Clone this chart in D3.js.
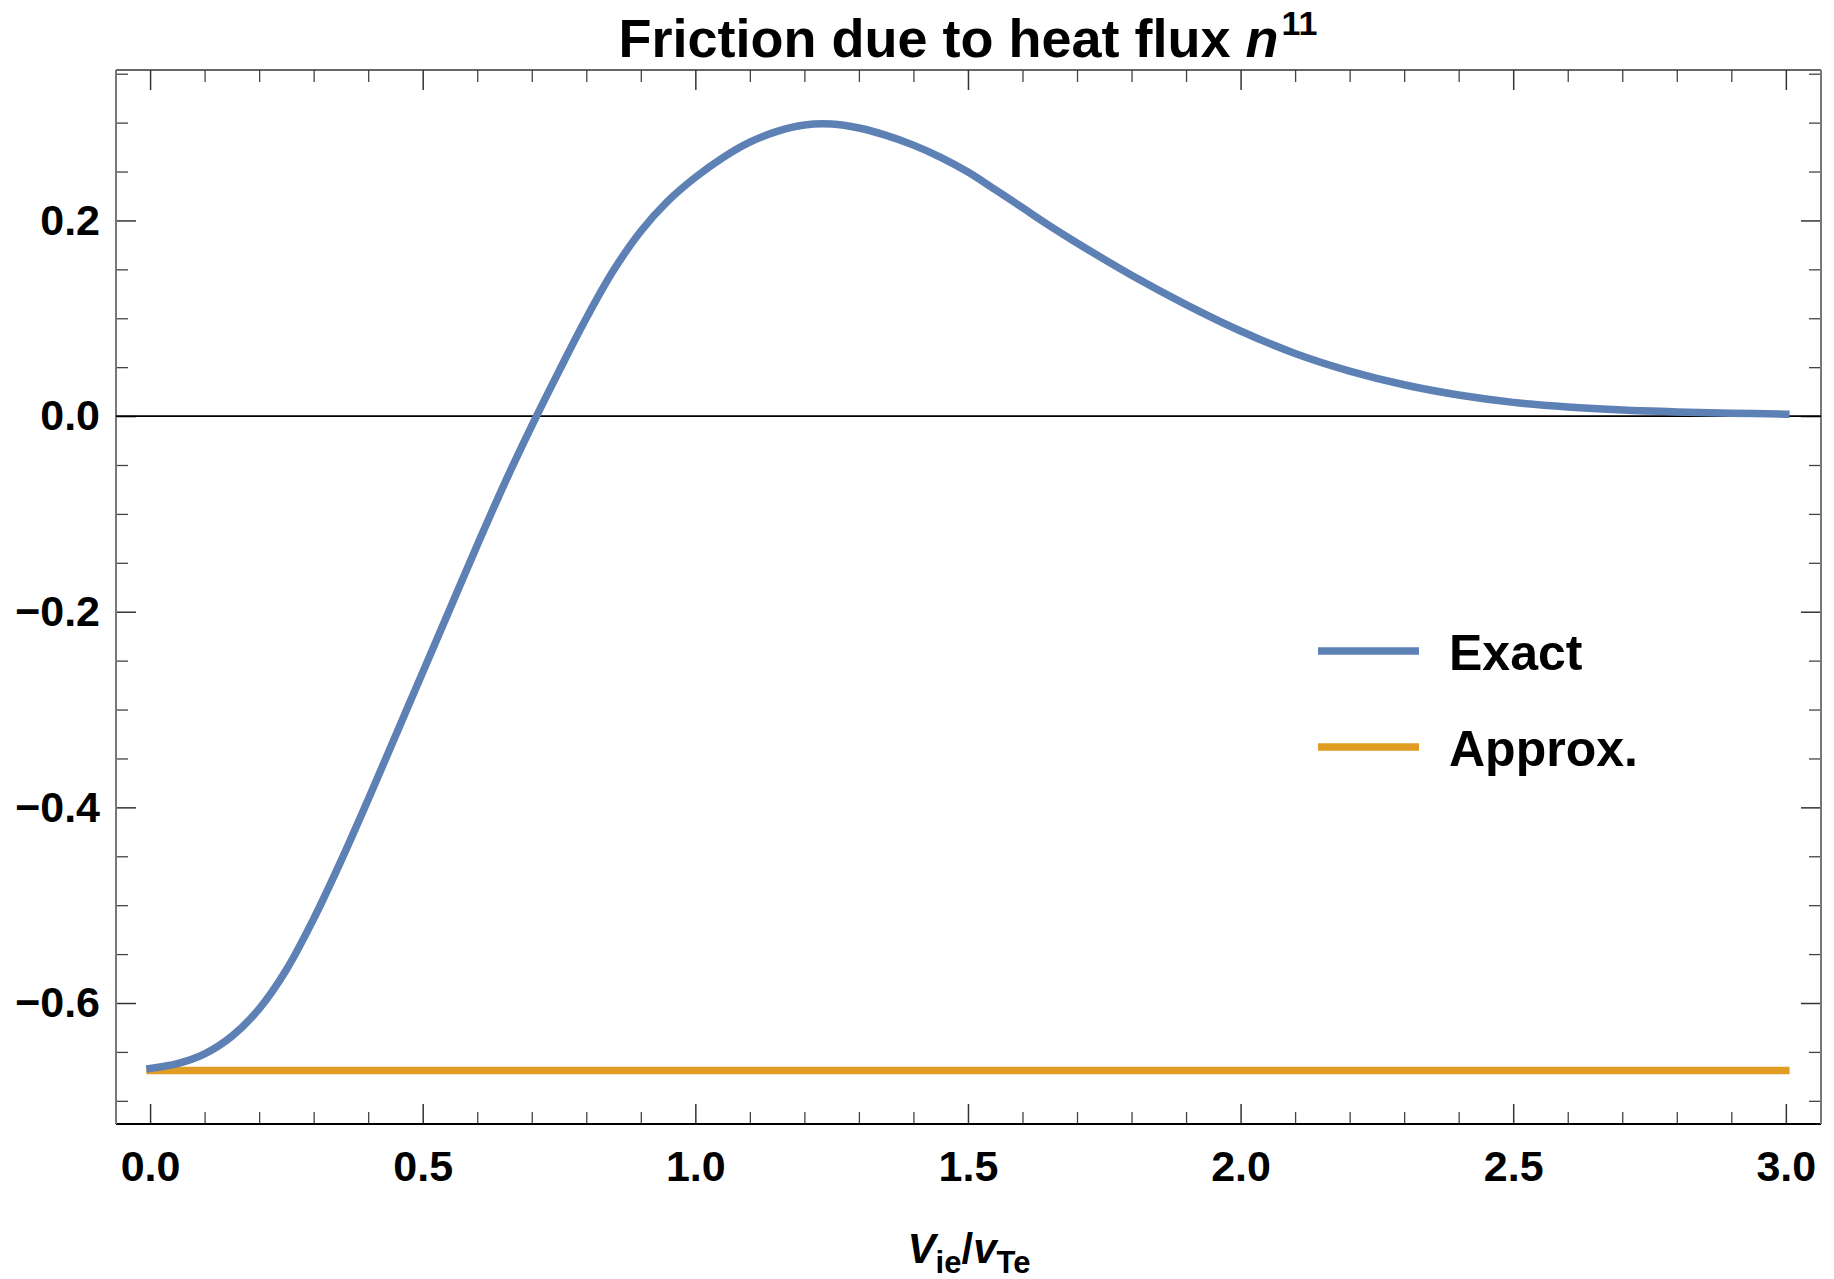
<!DOCTYPE html>
<meta charset="utf-8">
<style>
body { margin: 0; background: #fff; }
svg { font-family: "Liberation Sans", Arial, sans-serif; font-weight: bold; }
.tick text { font-size: 43px; font-weight: bold; fill: #000; }
.tick line { stroke: #333; stroke-width: 1.5px; }
.minor .tick line { stroke: #444; stroke-width: 1.3px; }
</style>
<svg width="1834" height="1279"></svg>
<script src="https://d3js.org/d3.v7.min.js"></script>
<script>

// values
var speed = [0, 0.05, 0.1, 0.15, 0.2, 0.25, 0.3, 0.35, 0.4, 0.45, 0.5, 0.55, 0.6, 0.65, 0.7, 0.75,
             0.8, 0.85, 0.9, 0.95, 1.0, 1.05, 1.1, 1.15, 1.2, 1.25, 1.3, 1.35, 1.4, 1.45, 1.5,
             1.55, 1.6, 1.65, 1.7, 1.8, 1.9, 2.0, 2.1, 2.2, 2.3, 2.4, 2.5, 2.6, 2.7, 2.8, 2.9, 3.0];
var exact = [-0.667, -0.662, -0.652, -0.634, -0.606, -0.566, -0.514, -0.455, -0.392, -0.327, -0.262,
             -0.197, -0.132, -0.069, -0.010, 0.046, 0.100, 0.149, 0.189, 0.220, 0.244, 0.264, 0.280,
             0.291, 0.2975, 0.2985, 0.2945, 0.287, 0.277, 0.2645, 0.2495,
             0.2315, 0.213, 0.1945, 0.177, 0.144, 0.114, 0.087, 0.064, 0.046, 0.032, 0.0215, 0.014,
             0.0093, 0.0062, 0.0043, 0.003, 0.002];
var approx = -0.669;

var xMajor = [0, 0.5, 1, 1.5, 2, 2.5, 3];
var yMajor = [-0.6, -0.4, -0.2, 0, 0.2];
var xMinor = d3.range(0, 31).map(function(i) { return i / 10; }).filter(function(v) { return Math.round(v * 10) % 5 != 0; });
var yMinor = d3.range(-14, 8).map(function(i) { return i / 20; }).filter(function(v) { return Math.round(v * 20) % 4 != 0; });

var legendNames = ["Exact", "Approx."];
var colors = ["#5E81B5", "#E19C24"];

var svg = d3.select("svg");
var plotLeft = 116, plotRight = 1821, plotTop = 70, plotBottom = 1124;

var x = d3.scaleLinear().domain([-0.0625, 3.0645]).range([plotLeft, plotRight]);
var y = d3.scaleLinear().domain([-0.7237, 0.3538]).range([plotBottom, plotTop]);

// axes: major + minor ticks on all four sides, pointing in
function addAxis(axis, tx, ty, cls) {
  var g = svg.append("g").attr("class", cls || "").attr("transform", "translate(" + tx + "," + ty + ")").call(axis);
  g.select(".domain").remove();
  return g;
}
addAxis(d3.axisBottom(x).tickValues(xMajor).tickSize(-20).tickPadding(26).tickFormat(d3.format(".1f")), 0, plotBottom);
addAxis(d3.axisBottom(x).tickValues(xMinor).tickSize(-12).tickFormat(""), 0, plotBottom, "minor");
addAxis(d3.axisTop(x).tickValues(xMajor).tickSize(-20).tickFormat(""), 0, plotTop);
addAxis(d3.axisTop(x).tickValues(xMinor).tickSize(-12).tickFormat(""), 0, plotTop, "minor");
addAxis(d3.axisLeft(y).tickValues(yMajor).tickSize(-20).tickPadding(16).tickFormat(d3.format(".1f")), plotLeft, 0);
addAxis(d3.axisLeft(y).tickValues(yMinor).tickSize(-12).tickFormat(""), plotLeft, 0, "minor");
addAxis(d3.axisRight(y).tickValues(yMajor).tickSize(-20).tickFormat(""), plotRight, 0);
addAxis(d3.axisRight(y).tickValues(yMinor).tickSize(-12).tickFormat(""), plotRight, 0, "minor");

// frame
svg.append("line").attr("x1", plotLeft).attr("x2", plotRight).attr("y1", plotTop).attr("y2", plotTop)
    .attr("stroke", "#333").attr("stroke-width", 1.5);
svg.append("line").attr("x1", plotLeft).attr("x2", plotRight).attr("y1", plotBottom).attr("y2", plotBottom)
    .attr("stroke", "#000").attr("stroke-width", 2);
svg.append("line").attr("x1", plotLeft).attr("x2", plotLeft).attr("y1", plotTop).attr("y2", plotBottom)
    .attr("stroke", "#777").attr("stroke-width", 2);
svg.append("line").attr("x1", plotRight).attr("x2", plotRight).attr("y1", plotTop).attr("y2", plotBottom)
    .attr("stroke", "#777").attr("stroke-width", 2);

// zero line
svg.append("line").attr("x1", plotLeft).attr("x2", plotRight).attr("y1", y(0)).attr("y2", y(0))
    .attr("stroke", "#000").attr("stroke-width", 1.8);

var line = d3.line()
    .x(function(d) { return x(d[0]); })
    .y(function(d) { return y(d[1]); })
    .curve(d3.curveCatmullRom.alpha(0.5));

svg.append("path")
    .datum([[speed[0], approx], [speed[speed.length - 1], approx]])
    .attr("d", line)
    .attr("fill", "none").attr("stroke", colors[1]).attr("stroke-width", 7.5).attr("stroke-linecap", "square");

svg.append("path")
    .datum(speed.map(function(s, i) { return [s, exact[i]]; }))
    .attr("d", line)
    .attr("fill", "none").attr("stroke", colors[0]).attr("stroke-width", 7.5).attr("stroke-linecap", "square")
    .attr("stroke-linejoin", "round");

// legend
var legend = svg.append("g").attr("transform", "translate(1318,651)");
legendNames.forEach(function(name, i) {
  legend.append("line").attr("x1", 0).attr("x2", 101).attr("y1", i * 96).attr("y2", i * 96)
      .attr("stroke", colors[i]).attr("stroke-width", 7.5);
  legend.append("text").attr("x", 131).attr("y", i * 96 + 19)
      .attr("font-size", 50).attr("fill", "#000").text(name);
});

// title
var title = svg.append("text").attr("x", 968).attr("y", 57).attr("text-anchor", "middle")
    .attr("font-size", 54).attr("fill", "#000");
title.append("tspan").text("Friction due to heat flux ");
title.append("tspan").attr("font-style", "italic").text("n");
title.append("tspan").attr("font-size", 34).attr("dx", 3).attr("dy", -22).text("11");

// x label
var xl = svg.append("text").attr("x", 969).attr("y", 1263).attr("text-anchor", "middle")
    .attr("font-size", 42).attr("fill", "#000");
xl.append("tspan").attr("font-style", "italic").text("V");
xl.append("tspan").attr("font-size", 31).attr("dy", 10).text("ie");
xl.append("tspan").attr("dy", -10).text("/");
xl.append("tspan").attr("font-style", "italic").text("v");
xl.append("tspan").attr("font-size", 31).attr("dy", 10).text("Te");

</script>
